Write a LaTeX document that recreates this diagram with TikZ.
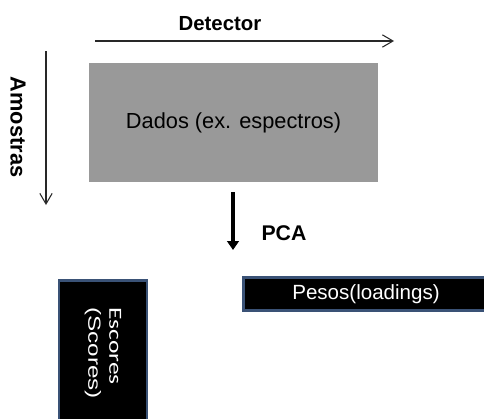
\documentclass[tikz,border=0pt]{standalone}
\usepackage{graphicx}
\usepackage{fontspec}
\setmainfont{Liberation Sans}
\newfontfamily\escfont{Carlito}
\usetikzlibrary{arrows, arrows.meta, positioning}
\definecolor{DataGray}{RGB}{153,153,153}
\definecolor{EdgeBlue}{RGB}{58,82,118}
\definecolor{ThinLine}{RGB}{40,40,40}

\begin{document}
\begin{tikzpicture}[x=0.02cm, y=-0.02cm,
  darkbox/.style={fill=black, draw=EdgeBlue, line width=1.2pt, text=white, inner sep=0pt},
  thinarrow/.style={draw=ThinLine, line width=0.6pt, -{Straight Barb[length=6pt,width=7pt]}},
  pcaarrow/.style={draw=black, line width=2.2pt, -{Triangle[length=5pt,width=6.5pt]}}]
\useasboundingbox (0,0) rectangle (484,419);
% data matrix
\node[fill=DataGray, minimum width=5.78cm, minimum height=2.38cm, inner sep=0pt] (D) at (233.5,122.5) {\fontsize{12.4}{14}\selectfont Dados (ex. espectros)};
\node (DET) at (220,24) {\fontsize{11.6}{13}\selectfont\bfseries Detector};
\node[rotate=-90] (AM) at (18,127) {\fontsize{12.4}{14}\selectfont\bfseries Amostras};
\coordinate (detL) at (95,41);
\coordinate (detR) at (394,41);
\coordinate (amT) at (46,51);
\coordinate (amB) at (46,205);
\draw[thinarrow] (detL) -- (detR);
\draw[thinarrow] (amT) -- (amB);
% PCA step
\coordinate (pcaT) at (233,192);
\coordinate (pcaB) at (233,250);
\draw[pcaarrow] (pcaT) -- (pcaB);
\node (PCA) at (284,233) {\fontsize{12.1}{14}\selectfont\bfseries PCA};
% results
\node[darkbox, minimum width=4.9cm, minimum height=0.66cm] (PES) at (366,294) {\fontsize{11.7}{13}\selectfont Pesos(loadings)};
\node[darkbox, rotate=-90, minimum width=2.9cm, minimum height=1.76cm, align=left] (ESC) at (103,353)
  {\escfont\fontsize{10.5}{14}\selectfont \scalebox{1.38}[1]{Escores}\\\scalebox{1.38}[1]{(Scores)}};
\end{tikzpicture}
\end{document}
